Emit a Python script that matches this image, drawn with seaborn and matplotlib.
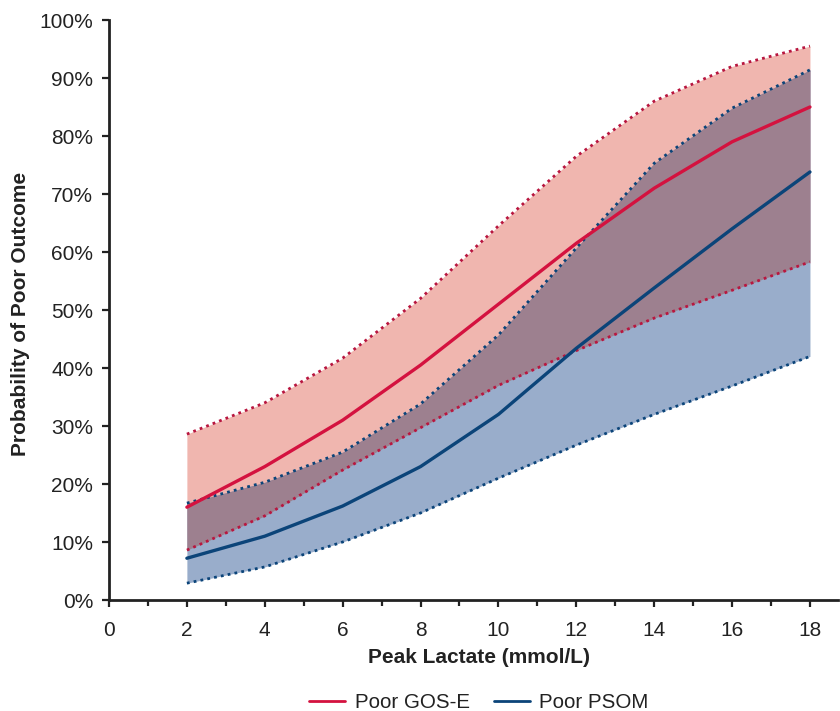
import numpy as np
import pandas as pd
import matplotlib
matplotlib.use("Agg")
import matplotlib.pyplot as plt
import seaborn as sns
from matplotlib.ticker import MultipleLocator, PercentFormatter
from matplotlib.lines import Line2D

# ---- data ----
lactate = [2, 4, 6, 8, 10, 12, 14, 16, 18]
gose_mean = [16.0, 23.0, 31.0, 40.5, 51.0, 61.5, 71.0, 79.0, 85.0]
gose_upper = [28.6, 34.0, 41.7, 52.0, 64.5, 76.5, 86.0, 92.0, 95.5]
gose_lower = [8.6, 14.5, 22.4, 29.7, 37.0, 43.0, 48.6, 53.4, 58.3]
psom_mean = [7.2, 11.0, 16.2, 23.0, 32.0, 43.4, 53.8, 64.0, 73.8]
psom_upper = [16.7, 20.3, 25.5, 33.8, 45.7, 60.7, 75.3, 84.8, 91.4]
psom_lower = [2.9, 5.7, 10.0, 15.0, 21.0, 26.7, 32.0, 36.9, 42.0]
series_names = ["Poor GOS-E", "Poor PSOM"]
x_ticks = [0, 2, 4, 6, 8, 10, 12, 14, 16, 18]
y_ticks = [0, 10, 20, 30, 40, 50, 60, 70, 80, 90, 100]

RED = "#d4123f"
RED_DOT = "#b8163f"
BLUE = "#0b4479"
PINK = "#f0b6af"
LBLUE = "#99adcb"
MAUVE = "#9d808f"
INK = "#222222"

sns.set_theme(style="ticks")
plt.rcParams["font.family"] = ["Liberation Sans", "DejaVu Sans"]

df = pd.DataFrame({
    "lactate": lactate * 2,
    "prob": gose_mean + psom_mean,
    "series": [series_names[0]] * len(lactate) + [series_names[1]] * len(lactate),
})

fig = plt.figure(figsize=(8.4, 7.11), dpi=100)
ax = fig.add_axes([109 / 840, 1 - 600 / 711, (838 - 109) / 840, (600 - 20) / 711])

x = np.array(lactate)
ax.fill_between(x, gose_lower, gose_upper, color=PINK, lw=0, zorder=1)
ax.fill_between(x, psom_lower, psom_upper, color=LBLUE, lw=0, zorder=1)
ax.fill_between(x, gose_lower, psom_upper, color=MAUVE, lw=0, zorder=2)

for y, c in [(gose_upper, RED_DOT), (gose_lower, RED_DOT), (psom_upper, BLUE), (psom_lower, BLUE)]:
    sns.lineplot(x=lactate, y=y, ax=ax, color=c, lw=2, linestyle=(0, (1, 1.5)), zorder=3)

sns.lineplot(data=df, x="lactate", y="prob", hue="series", palette=[RED, BLUE],
             ax=ax, lw=2.4, legend=False, zorder=4)

ax.set_xlim(0, 18.72)
ax.set_ylim(0, 100)
ax.set_xticks(x_ticks)
ax.xaxis.set_minor_locator(MultipleLocator(1))
ax.set_yticks(y_ticks)
ax.yaxis.set_major_formatter(PercentFormatter(decimals=0))
sns.despine(ax=ax)
for s in ["left", "bottom"]:
    ax.spines[s].set_linewidth(2)
    ax.spines[s].set_color(INK)
ax.tick_params(axis="both", which="major", length=5, width=1.6, color=INK,
               labelsize=15, labelcolor=INK)
ax.tick_params(axis="x", which="major", pad=10)
ax.tick_params(axis="y", which="major", pad=6.5)
ax.tick_params(axis="x", which="minor", length=4, width=1.6, color=INK)

ax.set_xlabel("Peak Lactate (mmol/L)", fontsize=15, fontweight="bold", color=INK)
ax.set_ylabel("Probability of Poor Outcome", fontsize=15, fontweight="bold", color=INK)
ax.xaxis.set_label_coords((479 - 109) / 729, -(648 - 600) / 580)
ax.yaxis.label.set_va("center")
ax.yaxis.set_label_coords((20 - 109) / 729, (600 - 314) / 580)

handles = [Line2D([0], [0], color=RED, lw=2), Line2D([0], [0], color=BLUE, lw=2)]
fig.legend(handles, series_names, loc="center", bbox_to_anchor=(479 / 840, 1 - 703 / 711),
           ncol=2, frameon=False, fontsize=14.8, handlelength=1.75, columnspacing=1.2,
           handletextpad=0.45, labelcolor=INK, borderpad=0)

fig.savefig("out.png", dpi=100)
